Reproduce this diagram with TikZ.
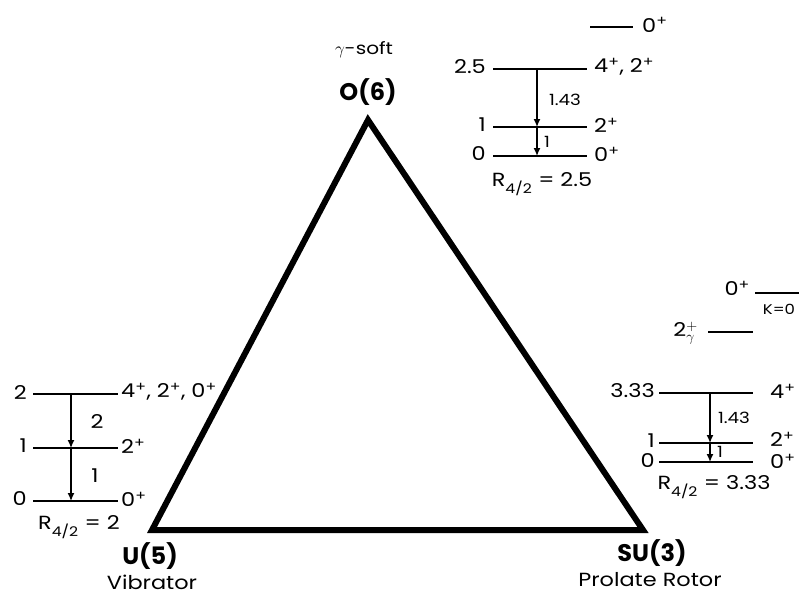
\documentclass[tikz,border=0pt]{standalone}
\usepackage{amsmath}
\usepackage{fontspec}
\setmainfont{Poppins}[FakeStretch=1.18]
\newfontfamily\headfont{Poppins}
\usetikzlibrary{arrows.meta}
\newcommand{\spin}[1]{#1\textsuperscript{+}}
\newcommand{\Rratio}[1]{R$_{\text{4/2}}$ = #1}

\tikzset{
  level/.style={line width=1.6pt},
  decay/.style={line width=1.4pt,-{Latex[length=8pt,width=7pt]}},
  txt/.style={inner sep=1pt,font=\fontsize{19}{19}\selectfont},
  small/.style={inner sep=1pt,font=\fontsize{15.5}{15.5}\selectfont},
  tiny/.style={inner sep=1pt,font=\fontsize{14}{14}\selectfont},
  big/.style={inner sep=1pt,font=\fontsize{24}{24}\headfont\bfseries},
}

\begin{document}
\begin{tikzpicture}[x=1pt,y=-1pt]
\useasboundingbox (0,0) rectangle (799,595);

% symmetry triangle
\coordinate (O6) at (368,120);
\coordinate (U5) at (152,530);
\coordinate (SU3) at (643,530);
\draw[line width=6pt,line join=miter] (O6) -- (SU3) -- (U5) -- cycle;

\node[inner sep=1pt,font=\fontsize{17}{17}\selectfont] (soft) at (364,50) {$\gamma$-soft};
\node[big] (O6lbl) at (368,92) {O(6)};
\node[big] (U5lbl) at (150,556) {U(5)};
\node[txt] (vib) at (152,582) {Vibrator};
\node[big] (SU3lbl) at (652,553) {SU(3)};
\node[txt] (rot) at (650,580) {Prolate Rotor};

% O(6) levels
\coordinate (o3l) at (590,27);  \coordinate (o3r) at (633,27);
\coordinate (o2l) at (493,69);  \coordinate (o2r) at (587,69);
\coordinate (o1l) at (493,127); \coordinate (o1r) at (587,127);
\coordinate (o0l) at (493,156); \coordinate (o0r) at (587,156);
\coordinate (o2m) at (537,69);
\coordinate (o1m) at (537,127);
\coordinate (o0m) at (537,156);
\foreach \n in {0,1,2,3} \draw[level] (o\n l) -- (o\n r);
\node[txt,anchor=west] (o3s) at (641,25) {\spin{0}};
\node[txt,anchor=east] (o2e) at (487,67) {2.5};
\node[txt,anchor=west] (o2s) at (593,67) {\spin{4}, \spin{2}};
\node[txt,anchor=east] (o1e) at (487,125) {1};
\node[txt,anchor=west] (o1s) at (593,125) {\spin{2}};
\node[txt,anchor=east] (o0e) at (487,154) {0};
\node[txt,anchor=west] (o0s) at (593,154) {\spin{0}};
\draw[decay] (o2m) -- (o1m);
\draw[decay] (o1m) -- (o0m);
\node[small] (o21) at (565,100) {1.43};
\node[small] (o10) at (547,142) {1};
\node[txt] (oR) at (542,184) {\Rratio{2.5}};

% U(5) levels
\coordinate (u2l) at (33,394);  \coordinate (u2r) at (118,394);
\coordinate (u1l) at (33,448);  \coordinate (u1r) at (118,448);
\coordinate (u0l) at (33,501);  \coordinate (u0r) at (118,501);
\coordinate (u2m) at (71,394);
\coordinate (u1m) at (71,448);
\coordinate (u0m) at (71,501);
\foreach \n in {0,1,2} \draw[level] (u\n l) -- (u\n r);
\node[txt,anchor=east] (u2e) at (28,392) {2};
\node[txt,anchor=west] (u2s) at (120,392) {\spin{4}, \spin{2}, \spin{0}};
\node[txt,anchor=east] (u1e) at (28,446) {1};
\node[txt,anchor=west] (u1s) at (120,446) {\spin{2}};
\node[txt,anchor=east] (u0e) at (28,499) {0};
\node[txt,anchor=west] (u0s) at (120,499) {\spin{0}};
\draw[decay] (u2m) -- (u1m);
\draw[decay] (u1m) -- (u0m);
\node[txt] (u21) at (97,421) {2};
\node[txt] (u10) at (95,476) {1};
\node[txt] (uR) at (79,527) {\Rratio{2}};

% SU(3) levels
\coordinate (s5l) at (755,293); \coordinate (s5r) at (799,293);
\coordinate (s4l) at (708,332); \coordinate (s4r) at (753,332);
\coordinate (s2l) at (659,393); \coordinate (s2r) at (753,393);
\coordinate (s1l) at (659,443); \coordinate (s1r) at (753,443);
\coordinate (s0l) at (659,462); \coordinate (s0r) at (753,462);
\coordinate (s2m) at (710,393);
\coordinate (s1m) at (710,443);
\coordinate (s0m) at (710,462);
\foreach \n in {0,1,2,4,5} \draw[level] (s\n l) -- (s\n r);
\node[txt,anchor=east] (s5s) at (751,288) {\spin{0}};
\node[tiny] (s5k) at (779,309) {K=0};
\node[txt,anchor=east] (s4s) at (699,333) {2$^{+}_{\gamma}$};
\node[txt,anchor=east] (s2e) at (656,391) {3.33};
\node[txt,anchor=west] (s2s) at (769,391) {\spin{4}};
\node[txt,anchor=east] (s1e) at (656,441) {1};
\node[txt,anchor=west] (s1s) at (769,439) {\spin{2}};
\node[txt,anchor=east] (s0e) at (656,461) {0};
\node[txt,anchor=west] (s0s) at (769,461) {\spin{0}};
\draw[decay] (s2m) -- (s1m);
\draw[decay] (s1m) -- (s0m);
\node[small] (s21) at (734,418) {1.43};
\node[small] (s10) at (720,452) {1};
\node[txt] (sR) at (714,487) {\Rratio{3.33}};
\end{tikzpicture}
\end{document}
